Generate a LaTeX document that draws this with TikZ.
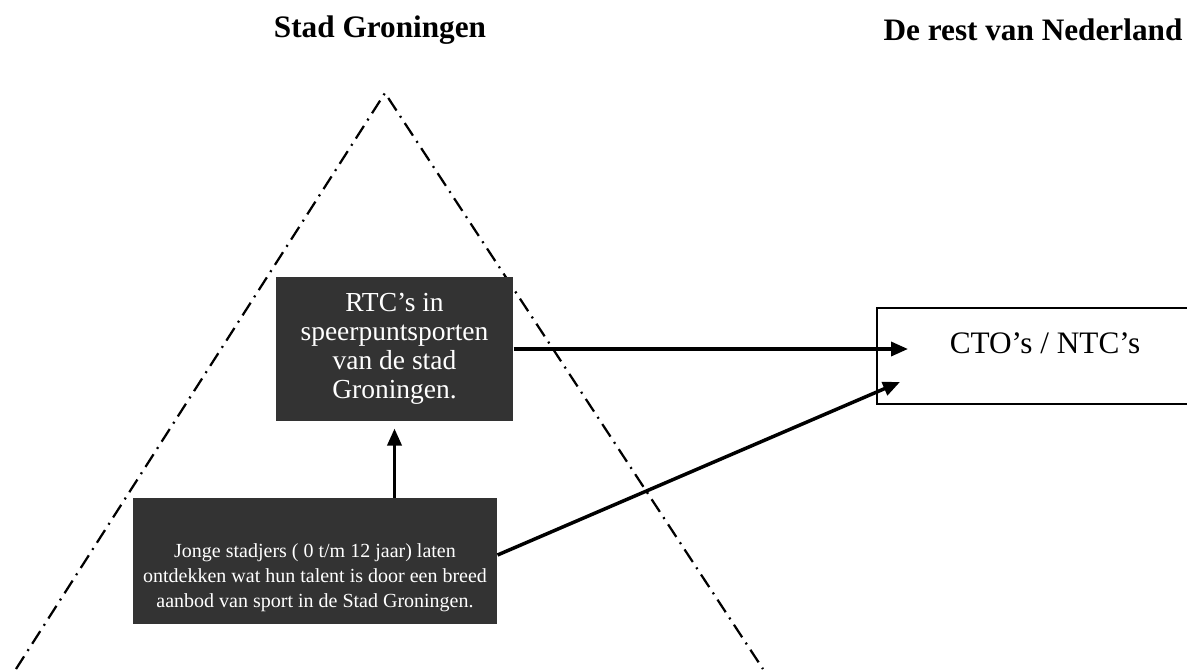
\documentclass[tikz,border=0pt]{standalone}
\usepackage{fontspec}
\setmainfont{Liberation Serif}
\usetikzlibrary{arrows.meta,positioning}

\tikzset{
	darkbox/.style={fill=black!80, text=white, inner sep=0pt, align=center},
	arr/.style={line width=1.4pt, -{Triangle[length=6.8pt,width=5.6pt]}},
	pyramid/.style={line width=0.9pt, dash pattern=on 6pt off 2.6pt on 0.8pt off 2.6pt},
	heading/.style={font=\bfseries\fontsize{12.5}{15}\selectfont}
}

\begin{document}
\begin{tikzpicture}[x=0.4pt, y=-0.4pt]
	\useasboundingbox (0,0) rectangle (1187,669);

	% headings
	\node[heading] (stad) at (380,30) {Stad Groningen};
	\node[heading] (rest) at (1033,30) {De rest van Nederland};

	% pyramid
	\draw[pyramid] (16,669) -- (385,93) -- (763,669);

	% boxes in the pyramid
	\node[darkbox, minimum width=94.8pt, minimum height=57.6pt,
		font=\fontsize{11}{11.6}\selectfont] (rtc) at (394.5,349)
		{RTC's in\\speerpuntsporten\\van de stad\\Groningen.};
	\node[darkbox, minimum width=145.6pt, minimum height=50.4pt] (jonge) at (315,561)
		{\parbox[c][50.4pt][b]{145.6pt}{\centering\fontsize{8}{10}\selectfont
		Jonge stadjers ( 0 t/m 12 jaar) laten\\
		ontdekken wat hun talent is door een breed\\
		aanbod van sport in de Stad Groningen.\par\vspace{5pt}}};

	% rest of the country
	\node[draw, line width=0.8pt, anchor=west, minimum width=134.4pt, minimum height=38.4pt,
		text depth=10pt, font=\fontsize{12.5}{15}\selectfont] (cto) at (876,356) {CTO's / NTC's};

	% arrows
	\draw[arr, shorten >=2.8pt] (rtc.south |- jonge.north) -- (rtc.south);
	\draw[arr] (rtc.east) -- ([xshift=12.8pt]rtc.east -| cto.west);
	\draw[arr] ([yshift=2.4pt]jonge.east) -- ([shift={(24,-23)}]cto.south west);

\end{tikzpicture}
\end{document}
